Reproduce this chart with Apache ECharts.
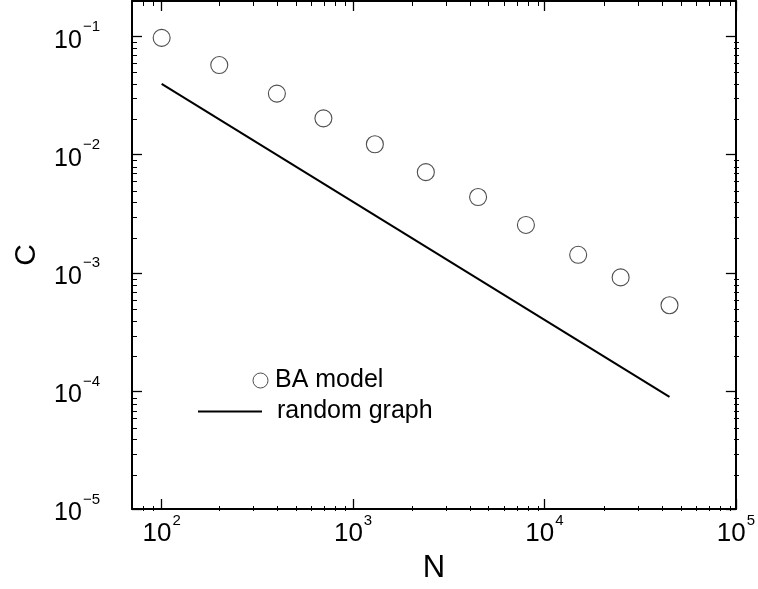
<!DOCTYPE html>
<html><head><meta charset="utf-8">
<script src="https://cdn.jsdelivr.net/npm/echarts@6/dist/echarts.min.js"></script>
<style>html,body{margin:0;padding:0;background:#fff}#c{width:758px;height:589px}</style>
</head><body><div id="c"></div>
<script>
const baN = [100, 200, 400, 700, 1300, 2400, 4500, 8000, 15000, 25000, 45000];
const baC = [0.0975, 0.0574, 0.0329, 0.0203, 0.01225, 0.00711, 0.00438, 0.00254, 0.00142, 0.000914, 0.000531];
const rgN = [100, 45000];
const rgC = [0.0397, 0.000089];
const xRange = [70, 100000];
const yRange = [0.00001, 0.2];
const xMajor = [100, 1000, 10000, 100000];
const yMajor = [0.00001, 0.0001, 0.001, 0.01, 0.1];

function minorsOf(range) {
  const out = [];
  const lo = Math.floor(Math.log10(range[0])), hi = Math.ceil(Math.log10(range[1]));
  for (let e = lo; e < hi; e++) {
    for (let m = 2; m <= 9; m++) {
      const v = parseFloat((m * Math.pow(10, e)).toPrecision(6));
      if (v > range[0] * 1.0001 && v < range[1] * 0.9999) out.push(v);
    }
  }
  return out;
}
const xMinor = minorsOf(xRange);
const yMinor = minorsOf(yRange);

const FONT = 'Liberation Sans, Arial, Helvetica, sans-serif';
function powLabel(v) {
  const e = Math.log10(v), r = Math.round(e);
  if (Math.abs(e - r) > 1e-6) return '';
  return '{b|10}{s|' + (r < 0 ? '\u2212' : '') + Math.abs(r) + '}';
}
function mkRich(big, small) {
  return {
    b: {fontSize: big, fontFamily: FONT, color: '#000', lineHeight: 34, verticalAlign: 'bottom'},
    s: {fontSize: small, fontFamily: FONT, color: '#000', lineHeight: 15, verticalAlign: 'top', padding: [0, 0, 0, 1]}
  };
}
function mkAxis(o) {
  const isX = o.isX;
  return {
    type: 'log', logBase: 10, gridIndex: o.grid, position: o.pos, min: o.range[0], max: o.range[1],
    axisLine: {show: o.line, onZero: false, lineStyle: {color: '#000', width: 2}},
    axisTick: {show: true, inside: true, length: o.tickLen, customValues: o.ticks,
               lineStyle: {color: '#000', width: o.tickW}},
    minorTick: {show: false},
    splitLine: {show: false},
    axisLabel: {show: !!o.label, customValues: o.label ? o.ticks : undefined,
                formatter: powLabel, rich: isX ? mkRich(26, 15) : mkRich(25, 15), margin: isX ? 4 : 32},
    name: o.name || '',
    nameLocation: 'middle',
    nameGap: isX ? 44 : 90,
    nameTextStyle: {fontSize: isX ? 31 : 30, fontFamily: FONT, color: '#000'}
  };
}
const gridBox = {left: 132, right: 19, top: 1, bottom: 78, containLabel: false};
const chart = echarts.init(document.getElementById('c'), null, {renderer: 'canvas'});
chart.setOption({
  backgroundColor: '#fff',
  animation: false,
  grid: [Object.assign({}, gridBox), Object.assign({}, gridBox)],
  xAxis: [
    mkAxis({isX: true, grid: 0, pos: 'bottom', range: xRange, line: true, tickLen: 10, tickW: 1.3, ticks: xMajor, label: true, name: 'N'}),
    mkAxis({isX: true, grid: 0, pos: 'top', range: xRange, line: true, tickLen: 10, tickW: 1.3, ticks: xMajor}),
    mkAxis({isX: true, grid: 1, pos: 'bottom', range: xRange, line: false, tickLen: 5, tickW: 1, ticks: xMinor}),
    mkAxis({isX: true, grid: 1, pos: 'top', range: xRange, line: false, tickLen: 5, tickW: 1, ticks: xMinor})
  ],
  yAxis: [
    mkAxis({isX: false, grid: 0, pos: 'left', range: yRange, line: true, tickLen: 10, tickW: 1.3, ticks: yMajor, label: true, name: 'C'}),
    mkAxis({isX: false, grid: 0, pos: 'right', range: yRange, line: true, tickLen: 10, tickW: 1.3, ticks: yMajor}),
    mkAxis({isX: false, grid: 1, pos: 'left', range: yRange, line: false, tickLen: 5, tickW: 1, ticks: yMinor}),
    mkAxis({isX: false, grid: 1, pos: 'right', range: yRange, line: false, tickLen: 5, tickW: 1, ticks: yMinor})
  ],
  legend: [
    {data: [{name: 'BA model', icon: 'circle'}], left: 252.5, top: 368, itemWidth: 15, itemHeight: 15, padding: 0,
     itemStyle: {borderWidth: 1, borderColor: '#222', color: '#fff'},
     textStyle: {fontSize: 25, fontFamily: FONT, color: '#000', padding: [0, 0, 0, 2]}},
    {data: [{name: 'random graph', icon: 'rect'}], left: 198, top: 399, itemWidth: 64, itemHeight: 2, padding: 0,
     itemStyle: {color: '#000', borderWidth: 0},
     textStyle: {fontSize: 25, fontFamily: FONT, color: '#000', padding: [0, 0, 0, 10]}}
  ],
  series: [
    {name: 'BA model', type: 'scatter', xAxisIndex: 0, yAxisIndex: 0,
     data: baN.map((n, i) => [n, baC[i]]), symbol: 'circle', symbolSize: 17,
     itemStyle: {color: '#fff', borderColor: '#222', borderWidth: 1.1}},
    {name: 'random graph', type: 'line', xAxisIndex: 0, yAxisIndex: 0,
     data: rgN.map((n, i) => [n, rgC[i]]), symbol: 'none', showSymbol: false,
     lineStyle: {color: '#000', width: 2}, itemStyle: {color: '#000'}}
  ]
});
</script></body></html>
